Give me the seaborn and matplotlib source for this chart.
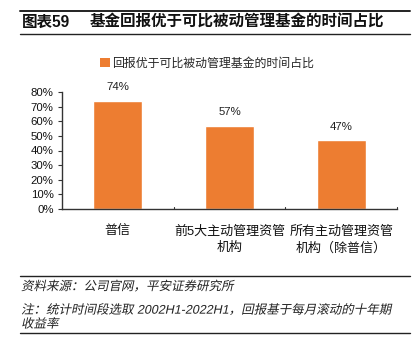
import matplotlib
matplotlib.use("Agg")
import matplotlib.pyplot as plt
import seaborn as sns
import pandas as pd
from matplotlib.patches import Patch
from matplotlib.lines import Line2D
from matplotlib.ticker import FuncFormatter, MultipleLocator
from matplotlib.patheffects import AbstractPathEffect
from matplotlib.transforms import Affine2D

categories = ["普信", "前5大主动管理资管\n机构", "所有主动管理资管\n机构（除普信）"]
values = [0.74, 0.57, 0.47]
value_labels = ["74%", "57%", "47%"]
series_name = "回报优于可比被动管理基金的时间占比"
title_num = "图表59"
title_text = "基金回报优于可比被动管理基金的时间占比"
source_text = "资料来源：公司官网，平安证券研究所"
note_text = "注：统计时间段选取 2002H1-2022H1，回报基于每月滚动的十年期\n收益率"


class Slant(AbstractPathEffect):
    def __init__(self, deg=12):
        super().__init__()
        self.deg = deg

    def draw_path(self, renderer, gc, tpath, affine, rgbFace=None):
        renderer.draw_path(gc, tpath, Affine2D().skew_deg(self.deg, 0) + affine, rgbFace)


sns.set_theme(style="white")
plt.rcParams['font.family'] = ['Liberation Sans', 'Noto Sans CJK SC', 'DejaVu Sans']

W, H = 414, 354
fig = plt.figure(figsize=(W/100, H/100), dpi=100)
ax = fig.add_axes([62/W, 1-209/H, (397-62)/W, (209-92)/H])

df = pd.DataFrame({"cat": categories, "val": values})
color = "#ED7D31"
sns.barplot(data=df, x="cat", y="val", color=color, width=0.44, ax=ax, saturation=1)

ax.set_ylim(0, 0.8)
ax.set_xlim(-0.5, 2.5)
ax.yaxis.set_major_locator(MultipleLocator(0.1))
ax.yaxis.set_major_formatter(FuncFormatter(lambda v, p: f"{v*100:.0f}%"))
ax.set_xlabel("")
ax.set_ylabel("")
for s in ["top", "right"]:
    ax.spines[s].set_visible(False)
for s in ["left", "bottom"]:
    ax.spines[s].set_color("#333333")
    ax.spines[s].set_linewidth(1.0)
ax.tick_params(axis="y", which="both", left=True, length=3, width=0.8, color="#333333",
               labelsize=8.2, pad=3, labelcolor="#111111")
ax.tick_params(axis="x", bottom=False, labelsize=9.4, pad=6, labelcolor="#111111")
for lbl in ax.get_xticklabels():
    lbl.set_linespacing(1.45)
# boundary ticks between categories (inward)
for xb in [0.5, 1.5, 2.5]:
    ax.plot([xb, xb], [0, 0.012], color="#333333", lw=0.8, clip_on=False)

for i, (v, lab) in enumerate(zip(values, value_labels)):
    ax.annotate(lab, (i, v), xytext=(0, 6), textcoords="offset points",
                ha="center", va="bottom", fontsize=8.2, color="#222222")

handle = Patch(facecolor=color, edgecolor="none")
fig.legend([handle], [series_name], loc="center left", bbox_to_anchor=(100/W, 1-64/H),
           frameon=False, fontsize=8.6, handlelength=0.8, handleheight=0.8,
           handletextpad=0.2, borderpad=0, borderaxespad=0)

# title
fig.text(22/W, 1-22/H, title_num, fontsize=11.2, fontweight="bold", va="center", ha="left", color="#111111")
fig.text(90/W, 1-22/H, title_text, fontsize=11.2, fontweight="bold", va="center", ha="left", color="#111111")
fig.add_artist(Line2D([20/W, 410/W], [1-11/H, 1-11/H], color="#222222", lw=1.4))
fig.add_artist(Line2D([20/W, 410/W], [1-34/H, 1-34/H], color="#222222", lw=1.0))

# footer
fig.add_artist(Line2D([20/W, 410/W], [1-276/H, 1-276/H], color="#222222", lw=1.0))
fig.text(21/W, 1-287/H, source_text, fontsize=9, va="center", ha="left", color="#222222",
         path_effects=[Slant(12)])
fig.text(21/W, 1-317.5/H, note_text, fontsize=9, va="center", ha="left",
         color="#222222", linespacing=1.2, path_effects=[Slant(12)])
fig.add_artist(Line2D([20/W, 410/W], [1-333/H, 1-333/H], color="#222222", lw=1.0))

fig.savefig("out.png", dpi=100, facecolor="white")
